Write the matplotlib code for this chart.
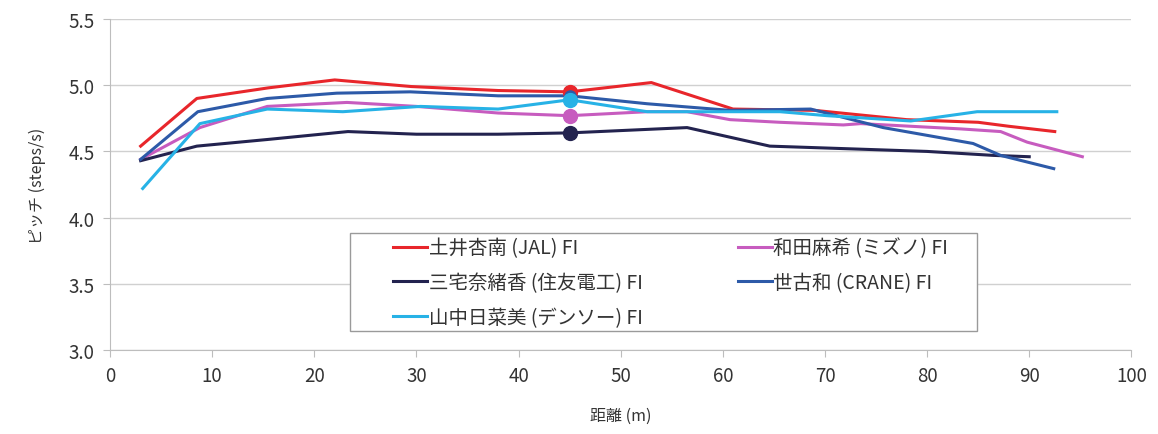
import matplotlib.pyplot as plt
from matplotlib.patches import Rectangle

plt.rcParams['font.family'] = ['Noto Sans CJK JP', 'DejaVu Sans']

# 土井杏南 (JAL)
doi_x = [3, 8.5, 15.5, 22, 29.5, 38, 45, 53, 61, 69, 78, 85, 88, 92.5]
doi_y = [4.54, 4.90, 4.98, 5.04, 4.99, 4.96, 4.95, 5.02, 4.82, 4.81, 4.74, 4.72, 4.69, 4.65]
# 和田麻希 (ミズノ)
wada_x = [3, 8.8, 15.4, 23.2, 30, 38, 45, 52.6, 56.5, 60.7, 65.6, 71.8, 73.5, 83.3, 87.2, 89.8, 95.2]
wada_y = [4.44, 4.68, 4.84, 4.87, 4.84, 4.79, 4.77, 4.80, 4.80, 4.74, 4.72, 4.70, 4.71, 4.67, 4.65, 4.57, 4.46]
# 三宅奈緒香 (住友電工)
miyake_x = [3, 8.5, 15.4, 23.3, 30, 38, 45, 56.5, 64.6, 80, 86.5, 90]
miyake_y = [4.43, 4.54, 4.59, 4.65, 4.63, 4.63, 4.64, 4.68, 4.54, 4.50, 4.47, 4.46]
# 世古和 (CRANE)
seko_x = [3, 8.6, 15.4, 22.2, 29.4, 38, 45, 52.6, 60.7, 68.6, 75.7, 84.5, 87.2, 92.4]
seko_y = [4.44, 4.80, 4.90, 4.94, 4.95, 4.92, 4.92, 4.86, 4.81, 4.82, 4.68, 4.56, 4.47, 4.37]
# 山中日菜美 (デンソー)
yamanaka_x = [3.2, 8.8, 15.4, 22.8, 30.4, 38, 45, 52.6, 65.6, 70.2, 78.4, 84.9, 92.7]
yamanaka_y = [4.22, 4.71, 4.82, 4.80, 4.84, 4.82, 4.89, 4.80, 4.80, 4.77, 4.73, 4.80, 4.80]

mark_x = 45

series = [
    ('土井杏南 (JAL) FI', doi_x, doi_y, '#e8262b'),
    ('和田麻希 (ミズノ) FI', wada_x, wada_y, '#c75cbf'),
    ('三宅奈緒香 (住友電工) FI', miyake_x, miyake_y, '#23234f'),
    ('世古和 (CRANE) FI', seko_x, seko_y, '#2d5aa8'),
    ('山中日菜美 (デンソー) FI', yamanaka_x, yamanaka_y, '#27b2e6'),
]

fig = plt.figure(figsize=(11.58, 4.35), dpi=100)
ax = fig.add_axes([0.095, 0.193, 0.882, 0.761])

handles = {}
for name, xs, ys, c in series:
    line, = ax.plot(xs, ys, color=c, lw=2.2, label=name)
    handles[name] = line
    i = xs.index(mark_x)
    ax.plot(xs[i], ys[i], 'o', color=c, ms=10 if 'CRANE' not in name else 8, zorder=3)

ax.set_xlim(0, 100)
ax.set_ylim(3.0, 5.5)
ax.set_xticks(range(0, 101, 10))
ax.set_yticks([3.0, 3.5, 4.0, 4.5, 5.0, 5.5])
ax.set_yticklabels(['3.0', '3.5', '4.0', '4.5', '5.0', '5.5'])
ax.yaxis.grid(True, color='#d0d0d0', lw=1)
ax.set_axisbelow(True)
for s in ['top', 'right']:
    ax.spines[s].set_visible(False)
for s in ['left', 'bottom']:
    ax.spines[s].set_color('#bdbdbd')
ax.tick_params(colors='#bdbdbd', labelcolor='#333333', labelsize=13.5, length=5, pad=6)

ax.set_xlabel('距離 (m)', fontsize=11.5, color='#333333', labelpad=15)
ax.set_ylabel('ピッチ (steps/s)', fontsize=11.5, color='#333333', labelpad=16)

# legend box drawn separately so it can be wider than its entries
ax.add_patch(Rectangle((0.235, 0.057), 0.614, 0.296, transform=ax.transAxes,
                       facecolor='white', edgecolor='#9a9a9a', lw=1, zorder=4))
order = ['土井杏南 (JAL) FI', '三宅奈緒香 (住友電工) FI', '山中日菜美 (デンソー) FI',
         '和田麻希 (ミズノ) FI', '世古和 (CRANE) FI']
leg = ax.legend([handles[n] for n in order], order, ncol=2, loc='upper left',
                bbox_to_anchor=(0.277, 0.340), frameon=False, fontsize=14,
                handlelength=1.75, handletextpad=0.08, borderaxespad=0, borderpad=0,
                labelspacing=0.7, columnspacing=4.9)
leg.set_zorder(5)
for t in leg.get_texts():
    t.set_color('#333333')

plt.savefig('out.png', dpi=100)
